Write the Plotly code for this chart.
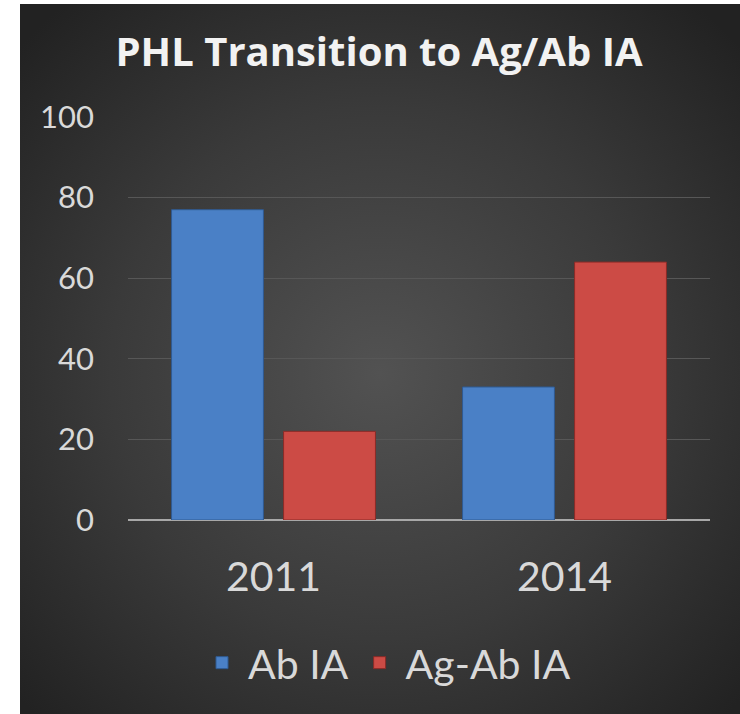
import base64
import plotly.graph_objects as go

years = ["2011", "2014"]
ab_ia = [77, 33]
ag_ab_ia = [22, 64]
series_names = ["Ab IA", "Ag-Ab IA"]
y_ticks = [0, 20, 40, 60, 80, 100]

# dark radial backdrop, drawn as an svg image since plotly has no gradient paper
bg_svg = """<svg xmlns='http://www.w3.org/2000/svg' width='720' height='710' preserveAspectRatio='none'>
<defs><radialGradient id='g' cx='50%' cy='52%' r='68%'>
<stop offset='0' stop-color='#525252'/><stop offset='0.55' stop-color='#3a3a3a'/>
<stop offset='1' stop-color='#222222'/></radialGradient></defs>
<rect width='720' height='710' fill='url(#g)'/></svg>"""
bg_uri = "data:image/svg+xml;base64," + base64.b64encode(bg_svg.encode()).decode()

W, H = 740, 714
L, R, T, B = 128, 30, 117, 194
pw, ph = W - L - R, H - T - B


def px_to_paper(px, py):
    # plotly paper coords are relative to the plot area
    return (px - L) / pw, (H - B - py) / ph


fig = go.Figure()
fig.add_trace(go.Bar(
    x=years, y=ab_ia, name=series_names[0],
    marker=dict(color="#4a80c6", line=dict(color="#2f5a92", width=1)),
))
fig.add_trace(go.Bar(
    x=years, y=ag_ab_ia, name=series_names[1],
    marker=dict(color="#cc4b45", line=dict(color="#8a2b27", width=1)),
))

img_x, img_y = px_to_paper(20, 4)
fig.update_layout(
    width=W, height=H,
    margin=dict(l=L, r=R, t=T, b=B),
    paper_bgcolor="white",
    plot_bgcolor="rgba(0,0,0,0)",
    barmode="group", bargap=0.23, bargroupgap=0.18,
    font=dict(family="Lato", color="#d9d9d9"),
    title=dict(
        text="PHL Transition to Ag/Ab IA",
        x=379 / W, xanchor="center", y=1 - 52 / H, yanchor="middle",
        font=dict(family="Open Sans", size=40, color="#f2f2f2", weight="bold"),
    ),
    images=[dict(
        source=bg_uri, xref="paper", yref="paper",
        x=img_x, y=img_y, sizex=720 / pw, sizey=710 / ph,
        xanchor="left", yanchor="top", sizing="stretch", layer="below",
    )],
    legend=dict(
        orientation="h", x=386 / W, xanchor="center", xref="container",
        y=1 - 663 / H, yanchor="middle", yref="container",
        font=dict(size=41, color="#d9d9d9"),
        bgcolor="rgba(0,0,0,0)", itemwidth=42, traceorder="normal",
    ),
    showlegend=True,
)
fig.update_yaxes(
    range=[0, 100], tickvals=y_ticks, showgrid=True, gridcolor="#575757", gridwidth=1,
    zeroline=True, zerolinecolor="#a8a8a8", zerolinewidth=2, automargin=False,
    showline=False, tickfont=dict(size=31, color="#d9d9d9"), ticklabelstandoff=33,
)
fig.update_xaxes(
    showline=False, showgrid=False, tickfont=dict(size=41, color="#d9d9d9"),
    ticklabelstandoff=29, automargin=False,
)

fig.write_html("out.html", config={"displayModeBar": False},
               post_script="document.body.style.margin='0';")
